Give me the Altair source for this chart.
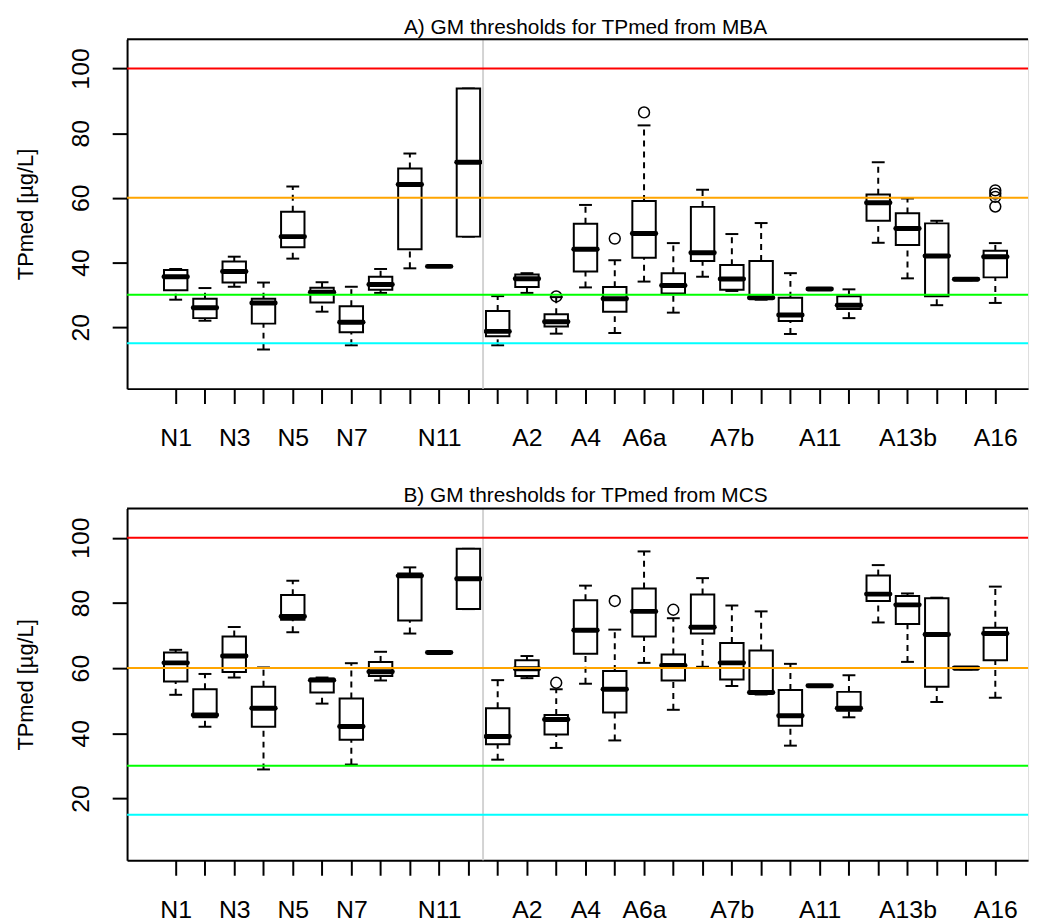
import json
import altair as alt
import pandas as pd

# ---------------- data ----------------
names = ["N1", "N2", "N3", "N4", "N5", "N6", "N7", "N8", "N10", "N11", "N12",
         "A1", "A2", "A3", "A4", "A5", "A6a", "A6b", "A7a", "A7b", "A8", "A10",
         "A11", "A12", "A13a", "A13b", "A14", "A15", "A16"]
shown_labels = ["N1", "N3", "N5", "N7", "N11", "A2", "A4", "A6a", "A7b",
                "A11", "A13b", "A16"]

# Panel A: MBA
mba_lo = [28.5, 22.0, 32.5, 13.1, 41.2, 24.8, 14.4, 30.6, 38.2, 38.8, 48.0,
          14.4, 30.6, 18.0, 32.3, 18.2, 34.1, 24.5, 35.6, 31.2, 28.5, 17.9,
          31.8, 22.8, 46.1, 35.1, 26.8, 34.5, 27.5]
mba_q1 = [31.4, 22.8, 33.8, 21.1, 44.7, 27.6, 18.4, 31.6, 44.1, 38.8, 48.0,
          17.2, 32.4, 20.2, 37.2, 24.8, 41.5, 30.4, 40.5, 31.6, 28.8, 21.9,
          31.8, 25.6, 52.9, 45.4, 29.6, 34.5, 35.4]
mba_med = [35.6, 26.0, 37.2, 27.5, 48.0, 30.8, 21.5, 33.2, 64.1, 38.8, 71.0,
           18.7, 35.0, 21.7, 44.1, 28.8, 49.0, 32.9, 43.0, 34.9, 29.1, 23.8,
           31.8, 26.8, 58.5, 50.5, 42.0, 34.8, 41.8]
mba_q3 = [37.7, 28.8, 40.3, 28.8, 55.7, 32.2, 26.5, 35.6, 69.1, 38.8, 93.8,
          25.0, 36.3, 24.0, 52.0, 32.4, 59.0, 36.7, 57.2, 39.2, 40.5, 29.1,
          31.8, 29.6, 61.0, 55.2, 52.1, 35.2, 43.6]
mba_hi = [38.0, 32.1, 41.8, 33.8, 63.5, 33.9, 32.5, 38.0, 73.7, 38.8, 93.8,
          29.6, 36.7, 29.3, 57.8, 40.7, 82.4, 46.0, 62.5, 48.8, 52.2, 36.7,
          31.8, 31.7, 71.0, 59.8, 52.9, 35.2, 46.0]
mba_out_name = ["A3", "A5", "A6a", "A16", "A16", "A16", "A16"]
mba_out_val = [29.5, 47.4, 86.4, 57.3, 60.3, 61.3, 62.3]

# Panel B: MCS
mcs_lo = [51.8, 42.0, 57.1, 28.9, 71.0, 49.1, 30.4, 56.2, 70.6, 64.8, 78.1,
          31.9, 56.9, 35.5, 55.2, 37.8, 61.6, 47.2, 60.4, 54.5, 51.9, 36.2,
          54.6, 44.9, 74.0, 61.9, 49.6, 59.6, 50.9]
mcs_q1 = [55.9, 44.9, 58.8, 42.0, 74.8, 52.5, 38.0, 57.6, 74.6, 64.8, 78.1,
          36.6, 57.6, 39.6, 64.4, 46.4, 69.7, 56.2, 70.6, 56.5, 52.2, 42.3,
          54.6, 46.9, 80.6, 73.5, 54.3, 59.6, 62.4]
mcs_med = [61.6, 45.6, 63.7, 47.7, 75.8, 56.3, 42.1, 58.9, 88.3, 64.8, 87.4,
           39.0, 59.8, 44.2, 71.6, 53.5, 77.4, 60.8, 72.5, 61.6, 52.5, 45.4,
           54.6, 47.7, 82.7, 79.4, 70.3, 60.0, 70.6]
mcs_q3 = [64.8, 53.5, 69.7, 54.3, 82.4, 56.8, 50.7, 61.9, 89.0, 64.8, 96.6,
          47.7, 62.4, 45.6, 80.8, 59.1, 84.4, 64.2, 82.6, 67.7, 65.4, 53.3,
          54.6, 52.7, 88.4, 82.1, 81.4, 60.3, 72.4]
mcs_hi = [65.6, 58.2, 72.6, 60.2, 86.8, 57.1, 61.5, 65.0, 90.9, 64.8, 96.6,
          56.3, 63.7, 53.5, 85.3, 71.8, 95.8, 75.3, 87.6, 79.2, 77.4, 61.3,
          54.6, 57.8, 91.6, 82.9, 81.6, 60.3, 85.0]
mcs_out_name = ["A3", "A5", "A6b"]
mcs_out_val = [55.5, 80.6, 77.9]

thresholds = [100, 60, 30, 15]
threshold_colors = ["#FF0000", "#FFA500", "#00FF00", "#00FFFF"]
divider_pos = [11.5]
titles = ["A) GM thresholds for TPmed from MBA",
          "B) GM thresholds for TPmed from MCS"]
y_ticks = [20, 40, 60, 80, 100]
y_title = "TPmed [µg/L]"

# ---------------- layout / style ----------------
FONT = "Liberation Sans"
PLOT_W = 908
H_A = 352.0
H_B = 354.7
PX_PER_UNIT = 29.5
r_x_range = [-0.66, 30.66]            # R's full (extended) x range
x_lo = -0.661
x_domain = [x_lo, x_lo + PLOT_W / PX_PER_UNIT]
y_domain = [1, 109]

label_at = [n if n in shown_labels else "" for n in names]
label_expr = json.dumps(label_at) + "[datum.value - 1]"

x_scale = alt.Scale(domain=x_domain, nice=False, zero=False)
y_scale = alt.Scale(domain=y_domain, nice=False, zero=False)

x_axis = alt.Axis(values=list(range(1, len(names) + 1)), labelExpr=label_expr,
                  title=None, grid=False, tickSize=15, tickWidth=2,
                  tickColor="black", domainColor="black", domainWidth=2,
                  labelFont=FONT, labelFontSize=25, labelColor="black",
                  labelAngle=0, labelAlign="center", labelBaseline="alphabetic",
                  labelPadding=42.3, labelOverlap=False, labelFlush=False,
                  labelBound=False)


def make_y_axis(h):
    return alt.Axis(values=y_ticks, title=y_title, grid=False, tickSize=15,
                    tickWidth=2, tickColor="black", domainColor="black",
                    domainWidth=2, labelFont=FONT, labelFontSize=25,
                    labelColor="black", labelAngle=270, labelAlign="center",
                    labelBaseline="alphabetic", labelPadding=23.7,
                    labelOverlap=False, labelFlush=False, labelBound=False,
                    titleFont=FONT, titleFontSize=22, titleFontWeight="normal",
                    titleColor="black", titleAngle=270, titleAlign="center",
                    titleBaseline="alphabetic", titleX=-95.7, titleY=h / 2)


def panel(lo, q1, med, q3, hi, out_name, out_val, title, h, title_dy):
    y_axis = make_y_axis(h)

    def xq(field):
        return alt.X(f"{field}:Q", scale=x_scale, axis=x_axis)

    def yq(field):
        return alt.Y(f"{field}:Q", scale=y_scale, axis=y_axis)

    df = pd.DataFrame({"name": names, "lo": lo, "q1": q1, "med": med,
                       "q3": q3, "hi": hi})
    df["pos"] = range(1, len(names) + 1)
    base = alt.Chart(df).transform_calculate(
        left="datum.pos - 0.4", right="datum.pos + 0.4",
        cl="datum.pos - 0.22", cr="datum.pos + 0.22")

    whisk_lo = base.mark_rule(color="black", strokeWidth=2, strokeDash=[6, 5]).encode(
        x=xq("pos"), y=yq("lo"), y2="q1:Q")
    whisk_hi = base.mark_rule(color="black", strokeWidth=2, strokeDash=[6, 5]).encode(
        x=xq("pos"), y=yq("q3"), y2="hi:Q")
    cap_lo = base.mark_rule(color="black", strokeWidth=2).encode(
        x=xq("cl"), x2="cr:Q", y=yq("lo"))
    cap_hi = base.mark_rule(color="black", strokeWidth=2).encode(
        x=xq("cl"), x2="cr:Q", y=yq("hi"))
    box = base.mark_rect(fill="white", stroke="black", strokeWidth=2).encode(
        x=xq("left"), x2="right:Q", y=yq("q1"), y2="q3:Q")
    median = base.mark_rule(color="black", strokeWidth=5, strokeCap="round").encode(
        x=xq("left"), x2="right:Q", y=yq("med"))

    odf = pd.DataFrame({"name": out_name, "value": out_val})
    odf["pos"] = [names.index(n) + 1 for n in out_name]
    outl = alt.Chart(odf).mark_point(shape="circle", filled=False, color="black",
                                     size=120, strokeWidth=1.5, opacity=1).encode(
        x=xq("pos"), y=yq("value"))

    divider = alt.Chart(pd.DataFrame({"v": divider_pos})).mark_rule(
        color="#D3D3D3", strokeWidth=2).encode(x=xq("v"))
    tdf = pd.DataFrame({"value": thresholds, "color": threshold_colors})
    thr = alt.Chart(tdf).mark_rule(strokeWidth=2).encode(
        y=yq("value"), color=alt.Color("color:N", scale=None))
    top = alt.Chart(pd.DataFrame({"v": [y_domain[1]]})).mark_rule(
        color="black", strokeWidth=2).encode(y=yq("v"))
    ttl = alt.Chart(pd.DataFrame({"t": [title], "xc": [sum(r_x_range) / 2]})).mark_text(
        font=FONT, fontSize=21, align="center", baseline="alphabetic",
        color="black").encode(x=xq("xc"), y=alt.value(title_dy), text="t:N")

    layers = [whisk_lo, whisk_hi, cap_lo, cap_hi, box, median, outl,
              divider, thr, top, ttl]
    return alt.layer(*layers).properties(width=PLOT_W, height=h)


pa = panel(mba_lo, mba_q1, mba_med, mba_q3, mba_hi, mba_out_name, mba_out_val,
           titles[0], H_A, -5)
pb = panel(mcs_lo, mcs_q1, mcs_med, mcs_q3, mcs_hi, mcs_out_name, mcs_out_val,
           titles[1], H_B, -6.5)

chart = alt.vconcat(pa, pb, spacing=120.7, bounds="flush").properties(
    padding=5,
    autosize=alt.AutoSizeParams(type="pad")
).configure_view(stroke=None).configure(font=FONT, background="white")

chart.save("out.html", embed_options={"renderer": "svg", "actions": False})
